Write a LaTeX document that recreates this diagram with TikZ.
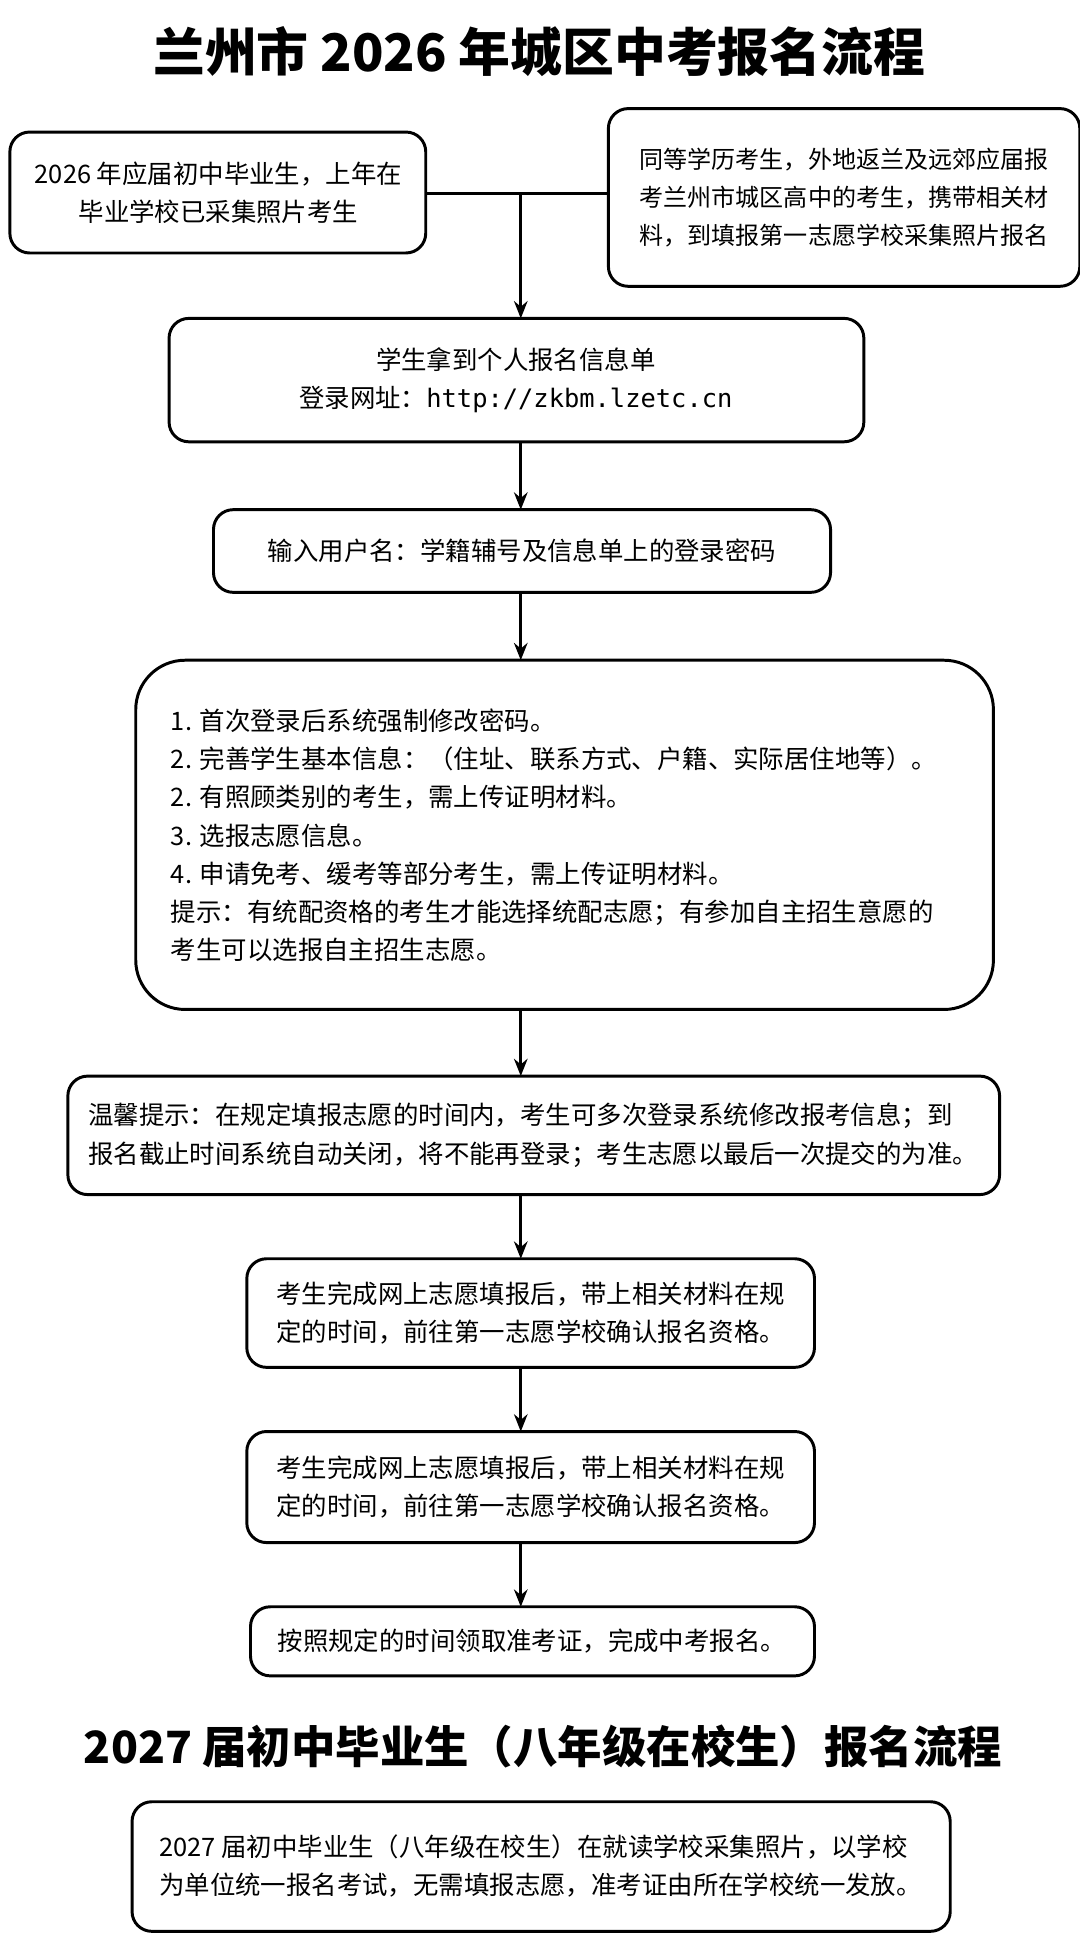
\documentclass[tikz,border=0pt]{standalone}
\usepackage{fontspec}
\setmainfont{Noto Sans CJK SC}
\newfontfamily\monof{DejaVu Sans Mono}
\usetikzlibrary{arrows.meta}
\begin{document}
\begin{tikzpicture}[x=1pt,y=-1pt,
  bx/.style={draw,line width=2.4pt,rounded corners=16pt,inner sep=0pt},
  tx/.style={font=\fontsize{20.6}{31}\selectfont,align=center},
  arr/.style={line width=2.4pt,-{Stealth[length=14pt,width=11pt]}}]
\useasboundingbox (0,0) rectangle (875,1568);
\node[font=\fontsize{42}{48}\selectfont\bfseries] (t1) at (437,42) {兰州市 2026 年城区中考报名流程};
\draw[bx] (8,107) rectangle (345,205); \node[tx] (a) at (177,156) {2026 年应届初中毕业生，上年在\\毕业学校已采集照片考生};
\draw[bx] (493,88) rectangle (875,232); \node[tx,align=left,font=\fontsize{19.5}{31}\selectfont] (b) at (684,160) {同等学历考生，外地返兰及远郊应届报\\考兰州市城区高中的考生，携带相关材\\料，到填报第一志愿学校采集照片报名};
\coordinate (ar) at (345,157); \coordinate (bl) at (493,157); \coordinate (m) at (422,157);
\draw[line width=2.4pt] (ar) -- (bl);
\draw[bx] (137,258) rectangle (700,358); \node[tx] (c) at (418,308) {学生拿到个人报名信息单\\登录网址：{\monof http://zkbm.lzetc.cn}};
\coordinate (ct) at (422,258);
\draw[arr] (m) -- (ct);
\draw[bx] (173,413) rectangle (673,480); \node[tx] (d) at (423,446) {输入用户名：学籍辅号及信息单上的登录密码};
\draw[arr] (422,358) -- (422,413);
\draw[bx,rounded corners=40pt] (110,535) rectangle (805,818);
\node[tx,align=left,anchor=west] (e) at (135,677) {1. 首次登录后系统强制修改密码。\\2. 完善学生基本信息：（住址、联系方式、户籍、实际居住地等）。\\2. 有照顾类别的考生，需上传证明材料。\\3. 选报志愿信息。\\4. 申请免考、缓考等部分考生，需上传证明材料。\\提示：有统配资格的考生才能选择统配志愿；有参加自主招生意愿的\\考生可以选报自主招生志愿。};
\draw[arr] (422,480) -- (422,535);
\draw[bx] (55,872) rectangle (810,968);
\node[tx,align=left] (f) at (432,920) {温馨提示：在规定填报志愿的时间内，考生可多次登录系统修改报考信息；到\\报名截止时间系统自动关闭，将不能再登录；考生志愿以最后一次提交的为准。};
\draw[arr] (422,818) -- (422,872);
\draw[bx] (200,1020) rectangle (660,1108);
\node[tx,align=left] (g) at (430,1064) {考生完成网上志愿填报后，带上相关材料在规\\定的时间，前往第一志愿学校确认报名资格。};
\draw[arr] (422,968) -- (422,1020);
\draw[bx] (200,1160) rectangle (660,1250);
\node[tx,align=left] (h) at (430,1205) {考生完成网上志愿填报后，带上相关材料在规\\定的时间，前往第一志愿学校确认报名资格。};
\draw[arr] (422,1108) -- (422,1160);
\draw[bx] (203,1302) rectangle (660,1358);
\node[tx] (i) at (431,1330) {按照规定的时间领取准考证，完成中考报名。};
\draw[arr] (422,1250) -- (422,1302);
\node[font=\fontsize{36}{42}\selectfont\bfseries] (t2) at (440,1415) {2027 届初中毕业生（八年级在校生）报名流程};
\draw[bx] (107,1460) rectangle (770,1565);
\node[tx,align=left] (j) at (438,1512) {2027 届初中毕业生（八年级在校生）在就读学校采集照片，以学校\\为单位统一报名考试，无需填报志愿，准考证由所在学校统一发放。};
\end{tikzpicture}
\end{document}
